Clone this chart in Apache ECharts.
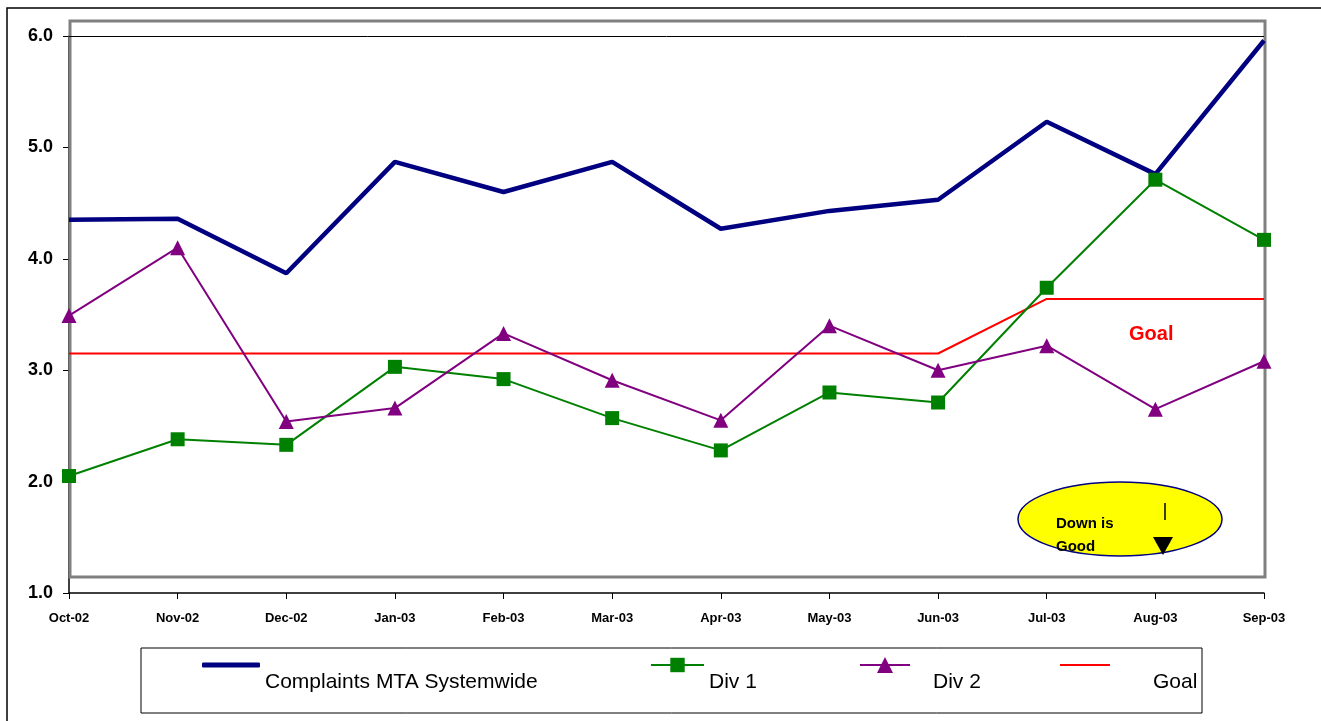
<!DOCTYPE html>
<html>
<head>
<meta charset="utf-8">
<script src="https://cdn.jsdelivr.net/npm/echarts@6/dist/echarts.min.js"></script>
<style>
  html, body { margin: 0; padding: 0; background: #fff; }
  #chart { width: 1321px; height: 721px; }
</style>
</head>
<body>
<div id="chart"></div>
<script>
var months = ['Oct-02', 'Nov-02', 'Dec-02', 'Jan-03', 'Feb-03', 'Mar-03', 'Apr-03', 'May-03', 'Jun-03', 'Jul-03', 'Aug-03', 'Sep-03'];
var systemwide = [4.35, 4.36, 3.87, 4.87, 4.60, 4.87, 4.27, 4.43, 4.53, 5.23, 4.76, 5.96];
var div1 = [2.05, 2.38, 2.33, 3.03, 2.92, 2.57, 2.28, 2.80, 2.71, 3.74, 4.71, 4.17];
var div2 = [3.49, 4.10, 2.54, 2.66, 3.33, 2.91, 2.55, 3.40, 3.00, 3.22, 2.65, 3.08];
var goal = [3.15, 3.15, 3.15, 3.15, 3.15, 3.15, 3.15, 3.15, 3.15, 3.64, 3.64, 3.64];

var font = 'Liberation Sans, Arial, sans-serif';
var chart = echarts.init(document.getElementById('chart'));

// one legend per item so each can sit where the original box puts it;
// the leading newline drops the name below its icon like the original
function legendAt(item, left, width, height, padLeft) {
    return {
        data: [item],
        left: left - 5,
        top: 626,
        itemWidth: width,
        itemHeight: height,
        itemGap: 0,
        formatter: function (n) { return '\n' + n; },
        textStyle: {
            fontFamily: font,
            fontSize: 21,
            color: '#000',
            lineHeight: 34,
            padding: [0, 0, 0, padLeft]
        }
    };
}

var option = {
    animation: false,
    backgroundColor: '#fff',
    grid: { left: 69, right: 57, top: 36, bottom: 128 },
    legend: [
        legendAt({ name: 'Complaints MTA Systemwide', icon: 'roundRect', itemStyle: { color: '#000080' } }, 202, 58, 5, 0),
        legendAt({ name: 'Div 1' }, 650, 53, 18, 0),
        legendAt({ name: 'Div 2' }, 859, 50, 20, 18),
        legendAt({ name: 'Goal', icon: 'rect', itemStyle: { color: '#ff0000' } }, 1060, 50, 2, 38)
    ],
    xAxis: {
        type: 'category',
        boundaryGap: false,
        data: months,
        axisLine: { lineStyle: { color: '#000', width: 1.5 } },
        axisTick: { alignWithLabel: true, length: 6, lineStyle: { color: '#000' } },
        axisLabel: { fontFamily: font, fontWeight: 'bold', fontSize: 13, color: '#000', margin: 19 }
    },
    yAxis: {
        type: 'value',
        min: 1,
        max: 6,
        interval: 1,
        axisLine: { show: true, lineStyle: { color: '#000', width: 1.5 } },
        axisTick: { show: true, length: 6, lineStyle: { color: '#000' } },
        splitLine: { show: false },
        axisLabel: {
            fontFamily: font, fontWeight: 'bold', fontSize: 18, color: '#000', margin: 16,
            formatter: function (v) { return v.toFixed(1); }
        }
    },
    graphic: [
        { type: 'rect', z: -1, shape: { x: 7, y: 8, width: 1330, height: 730 }, style: { fill: null, stroke: '#000', lineWidth: 1.5 } },
        { type: 'rect', z: 1, shape: { x: 70, y: 21, width: 1195, height: 556 }, style: { fill: null, stroke: '#808080', lineWidth: 3 } },
        { type: 'rect', z: -1, shape: { x: 141, y: 648, width: 1061, height: 65 }, style: { fill: null, stroke: '#000', lineWidth: 1 } },
        { type: 'text', z: 10, x: 1129, y: 324, style: { text: 'Goal', fill: '#ff0000', font: 'bold 20px ' + font } },
        { type: 'ellipse', z: 10, shape: { cx: 1120, cy: 519, rx: 102, ry: 37 }, style: { fill: '#ffff00', stroke: '#000080', lineWidth: 1.5 } },
        { type: 'text', z: 11, x: 1056, y: 512, style: { text: 'Down is\nGood', fill: '#000', font: 'bold 15px ' + font, lineHeight: 23 } },
        { type: 'line', z: 11, shape: { x1: 1165, y1: 503, x2: 1165, y2: 520 }, style: { stroke: '#000', lineWidth: 1.5 } },
        { type: 'polygon', z: 11, shape: { points: [[1153, 537], [1173, 537], [1163, 555]] }, style: { fill: '#000' } }
    ],
    series: [
        {
            name: 'Complaints MTA Systemwide',
            type: 'line',
            data: systemwide,
            symbol: 'none',
            color: '#000080',
            lineStyle: { width: 4.5, color: '#000080' },
            z: 4,
            markLine: {
                silent: true,
                symbol: 'none',
                label: { show: false },
                lineStyle: { color: '#000', width: 1, type: 'solid' },
                data: [{ yAxis: 6 }]
            }
        },
        {
            name: 'Div 1',
            type: 'line',
            data: div1,
            symbol: 'rect',
            symbolSize: 14,
            color: '#008000',
            lineStyle: { width: 2, color: '#008000' },
            z: 5
        },
        {
            name: 'Div 2',
            type: 'line',
            data: div2,
            symbol: 'triangle',
            symbolSize: 15,
            color: '#800080',
            lineStyle: { width: 2, color: '#800080' },
            z: 5
        },
        {
            name: 'Goal',
            type: 'line',
            data: goal,
            symbol: 'none',
            color: '#ff0000',
            lineStyle: { width: 2, color: '#ff0000' },
            z: 3
        }
    ]
};
chart.setOption(option);
</script>
</body>
</html>
